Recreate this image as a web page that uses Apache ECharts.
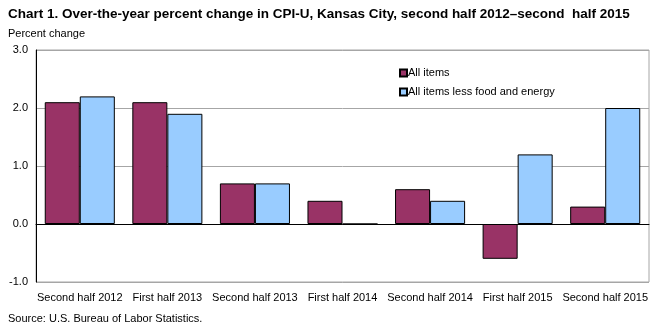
<!DOCTYPE html>
<html><head><meta charset="utf-8">
<script src="https://cdn.jsdelivr.net/npm/echarts@6/dist/echarts.min.js"></script>
<style>html,body{margin:0;padding:0;background:#fff}#c{width:659px;height:326px}</style>
</head><body><div id="c"></div>
<script>
const categories = ["Second half 2012","First half 2013","Second half 2013","First half 2014","Second half 2014","First half 2015","Second half 2015"];
const allItems = [2.1, 2.1, 0.7, 0.4, 0.6, -0.6, 0.3];
const coreItems = [2.2, 1.9, 0.7, 0.0, 0.4, 1.2, 2.0];
const seriesNames = ["All items", "All items less food and energy"];
const yTicks = {min: -1, max: 3, interval: 1};

const F = "'Liberation Sans', Arial, sans-serif";
const chart = echarts.init(document.getElementById('c'), null, {renderer: 'canvas'});
chart.setOption({
  animation: false,
  title: [
    {text: "Chart 1. Over-the-year percent change in CPI-U, Kansas City, second half 2012\u2013second  half 2015",
     left: 8, top: 7, padding: 0, textStyle: {fontFamily: F, fontWeight: 'bold', fontSize: 13.5, color: '#000'}},
    {text: "Percent change", left: 8, top: 28, padding: 0, textStyle: {fontFamily: F, fontWeight: 'normal', fontSize: 11, color: '#000'}},
    {text: "Source: U.S. Bureau of Labor Statistics.", left: 8, top: 313, padding: 0, textStyle: {fontFamily: F, fontWeight: 'normal', fontSize: 11, color: '#000'}}
  ],
  legend: {
    orient: 'vertical', left: 399, top: 67, padding: 0, itemWidth: 7, itemHeight: 7, itemGap: 7,
    icon: 'rect',
    textStyle: {fontFamily: F, fontSize: 11, lineHeight: 12, color: '#000', padding: [0,0,0,-4]},
    data: seriesNames
  },
  grid: {left: 36, right: 10, top: 50, bottom: 44, show: true, borderColor: '#a6a6a6', borderWidth: 1, containLabel: false},
  xAxis: {
    type: 'category', data: categories,
    axisLine: {onZero: true, lineStyle: {color: '#000', width: 1}},
    axisTick: {show: false},
    axisLabel: {position: 'bottom', fontFamily: F, fontSize: 11, color: '#000', interval: 0, margin: 10},
    position: 'bottom'
  },
  yAxis: {
    type: 'value', min: yTicks.min, max: yTicks.max, interval: yTicks.interval,
    axisLine: {show: true, lineStyle: {color: '#000'}},
    axisTick: {show: false},
    splitLine: {lineStyle: {color: '#a6a6a6'}},
    axisLabel: {fontFamily: F, fontSize: 11, color: '#000', margin: 8, formatter: v => v.toFixed(1)}
  },
  series: [
    {name: seriesNames[0], type: 'bar', data: allItems, barGap: '0%', barCategoryGap: '20%',
     itemStyle: {color: '#993366', borderColor: '#000', borderWidth: 1}},
    {name: seriesNames[1], type: 'bar', data: coreItems, barGap: '0%', barCategoryGap: '20%',
     itemStyle: {color: '#99ccff', borderColor: '#000', borderWidth: 1}}
  ]
});
</script></body></html>
